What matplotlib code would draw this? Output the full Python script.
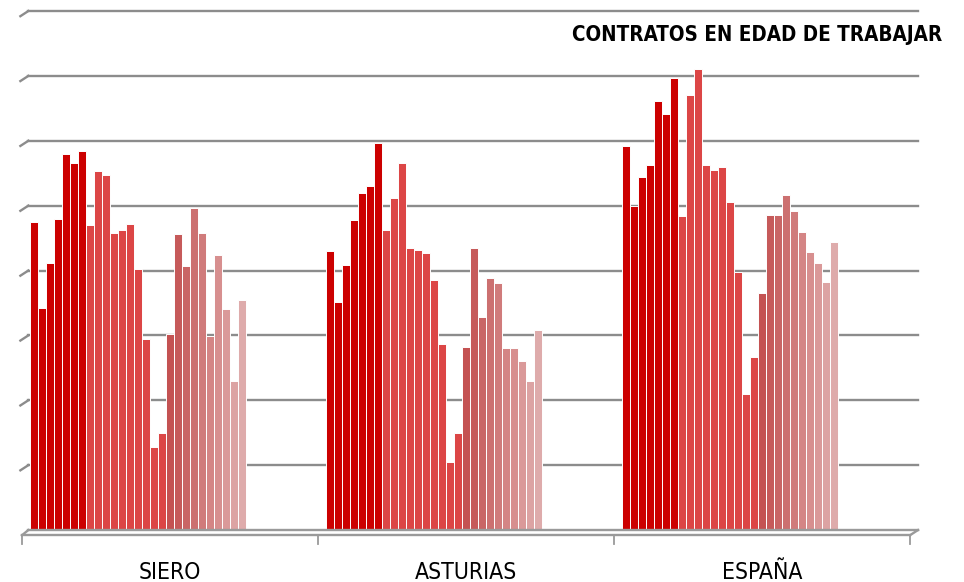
import numpy as np
import matplotlib.pyplot as plt
from matplotlib.lines import Line2D

# datos (unidades de la cuadricula, sin etiquetas en el eje y)
grupos = ['SIERO', 'ASTURIAS', 'ESPAÑA']

siero = [4.75, 3.42, 4.11, 4.79, 5.79, 5.65, 5.84, 4.70, 5.53, 5.47, 4.58, 4.62, 4.71, 4.02,
         2.94, 1.28, 1.49, 3.02, 4.56, 4.07, 4.97, 4.58, 2.99, 4.24, 3.41, 2.30, 3.54]
asturias = [4.30, 3.51, 4.09, 4.78, 5.19, 5.31, 5.96, 4.63, 5.12, 5.66, 4.35, 4.31, 4.27, 3.85,
            2.86, 1.05, 1.49, 2.82, 4.35, 3.28, 3.89, 3.81, 2.80, 2.80, 2.61, 2.30, 3.09]
espana = [5.92, 4.99, 5.44, 5.62, 6.62, 6.41, 6.97, 4.84, 6.70, 7.11, 5.62, 5.55, 5.60, 5.06,
          3.98, 2.10, 2.66, 3.66, 4.86, 4.86, 5.17, 4.92, 4.59, 4.28, 4.12, 3.83, 4.44]

colores = ['#cc0000'] * 7 + ['#dc4646'] * 10 + [
    '#c45252', '#c65a5a', '#c96565', '#cc7070', '#d07b7b', '#d48585',
    '#d78f8f', '#da9999', '#dca3a3', '#deabab']

series = [siero, asturias, espana]
n = len(siero)
ancho_grupo = 37

fig = plt.figure(figsize=(9.64, 5.82), dpi=100)
ax = fig.add_axes([0.0228, 0.0893, 0.9295, 0.8918])

# cuadricula
for y in range(1, 9):
    ax.add_line(Line2D([0.8, 112], [y, y], color='#8c8c8c', lw=1.7, zorder=0, clip_on=False))
    ax.add_line(Line2D([-0.2, 0.8], [y - 0.08, y], color='#8c8c8c', lw=1.7, zorder=0,
                       clip_on=False))

# barras
for g, valores in enumerate(series):
    x = g * ancho_grupo + 1.0 + np.arange(n)
    ax.bar(x, valores, width=1.0, color=colores, edgecolor='white', linewidth=0.7,
           align='edge', zorder=2)

# suelo del grafico
ax.add_line(Line2D([0.8, 112], [0.0, 0.0], color='#9a9a9a', lw=1.7, zorder=3, clip_on=False))
ax.add_line(Line2D([0, 111], [-0.08, -0.08], color='#9a9a9a', lw=1.7, zorder=3, clip_on=False))
ax.add_line(Line2D([111, 112], [-0.08, 0.0], color='#9a9a9a', lw=1.7, zorder=3, clip_on=False))
ax.add_line(Line2D([0, 0.8], [-0.08, 0.0], color='#9a9a9a', lw=1.7, zorder=3, clip_on=False))
for t in [0, 37, 74, 111]:
    ax.add_line(Line2D([t, t], [-0.08, -0.22], color='#9a9a9a', lw=1.3, clip_on=False))

for g, nombre in enumerate(grupos):
    ax.text(g * ancho_grupo + ancho_grupo / 2, -0.47, nombre, ha='center', va='top',
            fontsize=16.5, family='DejaVu Sans', fontstretch='condensed')

ax.set_xlim(0, 112)
ax.set_ylim(0, 8)
ax.axis('off')

fig.text(0.977, 0.94, 'CONTRATOS EN EDAD DE TRABAJAR', ha='right', va='center',
         fontsize=14.8, fontweight='bold', family='DejaVu Sans', fontstretch='condensed')

fig.savefig('out.png', dpi=100)
